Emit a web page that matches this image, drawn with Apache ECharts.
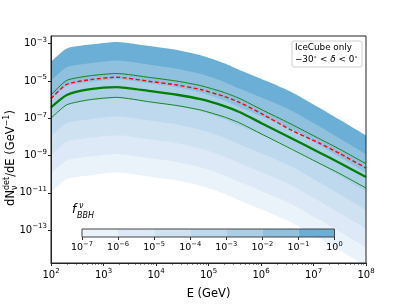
<!DOCTYPE html>
<html><head><meta charset="utf-8">
<script src="https://cdn.jsdelivr.net/npm/echarts@6/dist/echarts.min.js"></script>
<style>html,body{margin:0;padding:0;background:#fff}#c{width:407px;height:305px}</style>
</head><body><div id="c"></div>
<script>
// ---- data (log10 values) ----
const logE = [2, 2.3, 2.75, 3.25, 3.9, 4.4, 4.85, 5.3, 5.6, 6.0, 6.55, 7.1, 7.5, 8.0];
// band boundaries, log10 dN/dE, for f_BBH = 1e0 ... 1e-7
const bandF0 = [-3.98, -3.26, -3.05, -2.91, -3.14, -3.34, -3.62, -4.05, -4.42, -4.88, -5.55, -6.42, -7.08, -7.92];
const bandF1 = [-4.98, -4.26, -4.05, -3.91, -4.14, -4.34, -4.62, -5.05, -5.42, -5.88, -6.55, -7.42, -8.08, -8.92];
const bandF2 = [-5.98, -5.26, -5.05, -4.91, -5.14, -5.34, -5.62, -6.05, -6.42, -6.88, -7.55, -8.42, -9.08, -9.92];
const bandF3 = [-6.98, -6.26, -6.05, -5.91, -6.14, -6.34, -6.62, -7.05, -7.42, -7.88, -8.55, -9.42, -10.08, -10.92];
const bandF4 = [-7.98, -7.26, -7.05, -6.91, -7.14, -7.34, -7.62, -8.05, -8.42, -8.88, -9.55, -10.42, -11.08, -11.92];
const bandF5 = [-8.98, -8.26, -8.05, -7.91, -8.14, -8.34, -8.62, -9.05, -9.42, -9.88, -10.55, -11.42, -12.08, -12.92];
const bandF6 = [-9.98, -9.26, -9.05, -8.91, -9.14, -9.34, -9.62, -10.05, -10.42, -10.88, -11.55, -12.42, -13.08, -13.92];
const bandF7 = [-10.98, -10.26, -10.05, -9.91, -10.14, -10.34, -10.62, -11.05, -11.42, -11.88, -12.55, -13.42, -14.08, -14.92];
const greenThick = [-6.42, -5.75, -5.44, -5.33, -5.55, -5.74, -5.98, -6.35, -6.68, -7.25, -8.03, -8.82, -9.40, -10.15];
const greenUpper = [-5.75, -4.97, -4.72, -4.60, -4.82, -5.01, -5.25, -5.62, -5.95, -6.52, -7.28, -8.08, -8.66, -9.44];
const redDashed  = [-5.95, -5.18, -4.93, -4.80, -5.03, -5.22, -5.46, -5.83, -6.16, -6.74, -7.60, -8.32, -8.89, -9.67];
const greenLower = [-7.00, -6.28, -6.00, -5.88, -6.13, -6.32, -6.56, -6.93, -7.26, -7.83, -8.61, -9.40, -9.97, -10.74];
const xTicks = [2, 3, 4, 5, 6, 7, 8];
const yTicks = [-13, -11, -9, -7, -5, -3];
const cbarTicks = [-7, -6, -5, -4, -3, -2, -1, 0];
const cbarSegLow = [-7, -6, -5, -4, -3, -2, -1];

// ---- styling ----
const bandColors = ['#6baed6', '#8fc0de', '#abcfe7', '#bed9ed', '#cfe2f2', '#dde9f6', '#eaf2fa', '#ffffff'];
const cbarColors = ['#eaf2fa', '#dde9f6', '#cfe2f2', '#bed9ed', '#abcfe7', '#8fc0de', '#6baed6'];
const FONT = 'DejaVu Sans';
const minorTicks = [];
for (let n = 2; n < 8; n++) for (let k = 2; k <= 9; k++) minorTicks.push(n + Math.log10(k));
const pw = v => '{b|10}{s|' + (v < 0 ? '\u2212' + (-v) : v) + '}';
const richMain = { b: { fontSize: 10, fontFamily: FONT, color: '#000', lineHeight: 14 }, s: { fontSize: 7, fontFamily: FONT, color: '#000', lineHeight: 7, verticalAlign: 'top' } };
const richCb = { b: { fontSize: 9.5, fontFamily: FONT, color: '#000', lineHeight: 13 }, s: { fontSize: 6.7, fontFamily: FONT, color: '#000', lineHeight: 7, verticalAlign: 'top' } };

const bands = [bandF0, bandF1, bandF2, bandF3, bandF4, bandF5, bandF6, bandF7];
const pairs = arr => logE.map((x, i) => [x, arr[i]]);
const series = [];
bands.forEach((b, k) => {
  series.push({ type: 'line', xAxisIndex: 0, yAxisIndex: 0, data: pairs(b), symbol: 'none', smooth: 0.2,
    lineStyle: { width: 0 }, areaStyle: { color: bandColors[k], opacity: 1, origin: 'start' }, silent: true, z: 2 });
});
const lineS = (arr, color, width, type) => ({ type: 'line', xAxisIndex: 0, yAxisIndex: 0, data: pairs(arr), symbol: 'none', smooth: 0.2,
  lineStyle: { color, width, type }, silent: true, z: 3 });
series.push(lineS(greenUpper, '#008000', 0.9, 'solid'));
series.push(lineS(greenLower, '#008000', 0.9, 'solid'));
series.push(lineS(greenThick, '#008000', 2.3, 'solid'));
series.push(lineS(redDashed, '#ff0000', 1.4, [4, 2.5]));
series.push({ type: 'custom', xAxisIndex: 2, yAxisIndex: 1, data: cbarSegLow.map((lo, i) => [lo, lo + 1, i]),
  encode: { x: [0, 1] }, silent: true,
  renderItem: (params, api) => {
    const p0 = api.coord([api.value(0), 0]);
    const p1 = api.coord([api.value(1), 1]);
    return { type: 'rect', shape: { x: p0[0], y: p1[1], width: p1[0] - p0[0], height: p0[1] - p1[1] }, style: { fill: cbarColors[api.value(2)] } };
  } });

// text width helper for the y-label layout
const ctx = document.createElement('canvas').getContext('2d');
const tw = (t, s) => { ctx.font = s + 'px "' + FONT + '"'; return ctx.measureText(t).width; };
const yl = { a: 'dN', b: 'det', c: '/dE (GeV', d: '\u22121', e: ')' };
const big = 11.5, small = 8;
const L = tw(yl.a, big) + tw(yl.b, small) + tw(yl.c, big) + tw(yl.d, small) + tw(yl.e, big);
let cx = -L / 2;
const ylabelKids = [];
const addT = (t, s, dy, italic) => { ylabelKids.push({ type: 'text', x: cx, y: dy, style: { text: t, font: (italic ? 'italic ' : '') + s + 'px "' + FONT + '"', fill: '#000', textAlign: 'left', textVerticalAlign: 'middle' } }); };
addT(yl.a, big, 0); const xSub = cx + tw(yl.a, big); cx = xSub;
addT(yl.b, small, -4); cx += tw(yl.b, small);
ylabelKids.push({ type: 'text', x: xSub, y: 4, style: { text: '\u03bd', font: small + 'px "' + FONT + '"', fill: '#000', textAlign: 'left', textVerticalAlign: 'middle' } });
addT(yl.c, big, 0); cx += tw(yl.c, big);
addT(yl.d, small, -4); cx += tw(yl.d, small);
addT(yl.e, big, 0);

const chart = echarts.init(document.getElementById('c'), null, { renderer: 'canvas' });
chart.setOption({
  animation: false,
  backgroundColor: '#fff',
  grid: [
    { left: 51, top: 36, width: 315, height: 235, show: true, borderColor: '#222', borderWidth: 1, backgroundColor: 'transparent', z: 10 },
    { left: 82, top: 229, width: 252.5, height: 8, show: true, borderColor: '#444', borderWidth: 1, backgroundColor: 'transparent', z: 10 }
  ],
  xAxis: [
    { type: 'value', gridIndex: 0, min: 2, max: 8, interval: 1, position: 'bottom', z: 10,
      name: 'E (GeV)', nameLocation: 'middle', nameGap: 25, nameTextStyle: { fontSize: 11.5, fontFamily: FONT, color: '#000' },
      axisLine: { show: true, lineStyle: { color: '#222', width: 1 } },
      axisTick: { show: true, inside: false, length: 3, lineStyle: { color: '#222' }, customValues: xTicks },
      axisLabel: { show: true, margin: 5, formatter: pw, rich: richMain, customValues: xTicks },
      splitLine: { show: false } },
    { type: 'value', gridIndex: 0, min: 2, max: 8, position: 'bottom', z: 10,
      axisLine: { show: false }, axisLabel: { show: false },
      axisTick: { show: true, inside: false, length: 1.7, lineStyle: { color: '#222', width: 0.8 }, customValues: minorTicks },
      splitLine: { show: false } },
    { type: 'value', gridIndex: 1, min: -7, max: 0, interval: 1, position: 'bottom', z: 10,
      axisLine: { show: false },
      axisTick: { show: true, inside: false, length: 3, lineStyle: { color: '#333' }, customValues: cbarTicks },
      axisLabel: { show: true, margin: 4, formatter: pw, rich: richCb, customValues: cbarTicks },
      splitLine: { show: false } }
  ],
  yAxis: [
    { type: 'value', gridIndex: 0, min: -14.76, max: -2.59, z: 10,
      axisLine: { show: true, lineStyle: { color: '#222', width: 1 } },
      axisTick: { show: true, inside: false, length: 3, lineStyle: { color: '#222' }, customValues: yTicks },
      axisLabel: { show: true, margin: 4, formatter: pw, rich: richMain, customValues: yTicks },
      splitLine: { show: false } },
    { type: 'value', gridIndex: 1, min: 0, max: 1, show: false }
  ],
  graphic: [
    { type: 'group', x: 11, y: 158, rotation: Math.PI / 2, children: ylabelKids, z: 20 },
    { type: 'rect', shape: { x: 292, y: 41, width: 70, height: 26, r: 2 }, style: { fill: 'rgba(255,255,255,0.85)', stroke: '#d0d0d0', lineWidth: 1 }, z: 20 },
    { type: 'text', x: 295, y: 43, z: 21, style: { text: 'IceCube only', font: '8.8px "' + FONT + '"', fill: '#000' } },
    { type: 'text', x: 295, y: 54, z: 21, style: { text: '{n|\u221230}{s|\u2218}{n| < }{i|\u03b4}{n| < 0}{s|\u2218}',
      rich: { n: { fontSize: 8.8, fontFamily: FONT, lineHeight: 11 }, i: { fontSize: 8.8, fontFamily: FONT, fontStyle: 'italic', lineHeight: 11 }, s: { fontSize: 6, fontFamily: FONT, lineHeight: 6, verticalAlign: 'top' } } } },
    { type: 'text', x: 72, y: 204, z: 21, style: { text: 'f', font: 'italic 12px "' + FONT + '"', fill: '#000' } },
    { type: 'text', x: 79, y: 202, z: 21, style: { text: '\u03bd', font: 'italic 8px "' + FONT + '"', fill: '#000' } },
    { type: 'text', x: 77, y: 212, z: 21, style: { text: 'BBH', font: 'italic 8px "' + FONT + '"', fill: '#000' } }
  ],
  series
});
</script></body></html>
